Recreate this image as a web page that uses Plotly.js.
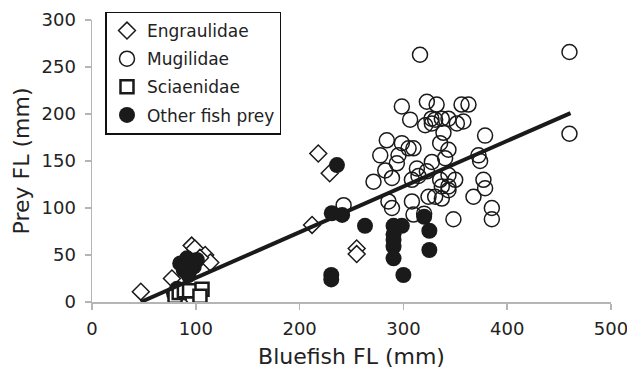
<!DOCTYPE html>
<html>
<head>
<meta charset="utf-8">
<script src="https://cdn.plot.ly/plotly-3.0.1.min.js"></script>
<style>html,body{margin:0;padding:0;background:#fff;}#chart{width:627px;height:372px;}</style>
</head>
<body>
<div id="chart"></div>
<script>
// Engraulidae (open diamonds)
const engX = [47, 83.5, 77, 96, 99, 109, 114, 104, 218, 229, 212, 255, 255];
const engY = [11, 0.5, 25, 60, 57, 50, 42, 47, 158, 137, 82, 57, 51];

// Mugilidae (open circles)
const mugX = [316, 460, 460, 298.5, 322.6, 332, 356, 362.7, 306.5, 321, 327.4, 330.6, 337, 343.4, 351.5, 357.8,
  338.6, 378.7, 284, 298.5, 305, 309.7, 335.4, 343.4, 277.7, 295.3, 293.7, 340.2, 327.4, 372.3, 373.9,
  282.5, 289, 271.2, 313, 314.5, 322.6, 335.4, 343.4, 349.9, 337, 343.4, 308.2, 377.1, 378.7,
  324.2, 330.6, 337, 367.5, 285.6, 289, 308.2, 385.2, 385.2, 348.2, 242.4, 309.7, 320, 343.4, 327];
const mugY = [263, 266, 179, 208, 213, 210, 210, 210, 194, 188, 190, 194, 195, 195, 190, 192,
  180, 177, 172, 169, 163.5, 163.5, 169, 162, 156, 156, 147.5, 153, 149, 156, 150,
  140, 132, 128, 142, 134, 139, 130, 135, 130, 123, 119, 130, 130, 121,
  112, 112, 110, 112, 107, 100, 107, 100, 88, 88, 103, 93, 94, 123, 195];

// Sciaenidae (open squares)
const sciX = [80, 84, 89, 94, 106, 104];
const sciY = [6, 10, 12, 12, 13.5, 6];

// Other fish prey (filled circles)
const othX = [85, 91.6, 98, 88.4, 101, 93, 79, 82, 95, 90, 236, 231, 241, 263, 290.5, 298.5, 290.5, 290.5, 290.5, 290.5, 300, 320, 325, 325, 230.5, 230.5];
const othY = [41, 46.5, 37.6, 34, 44.7, 28.7, 9, 14, 40, 38, 145.7, 94.4, 92.6, 81, 81, 81, 72, 66, 59, 46.5, 28.7, 90.7, 75.8, 55.3, 28.7, 24];

// Regression line end points
const fitX = [47, 461];
const fitY = [0, 201];

const ink = '#1a1a1a';
const FONT = 'DejaVu Sans, Liberation Sans, Arial, sans-serif';
const traces = [
  {x: engX, y: engY, name: 'Engraulidae', legendgroup: 'g1', type: 'scatter', mode: 'markers', legendrank: 1,
   marker: {symbol: 'diamond', size: 13, color: '#fff', line: {color: ink, width: 1.5}}},
  {x: mugX, y: mugY, name: 'Mugilidae', legendgroup: 'g2', type: 'scatter', mode: 'markers', legendrank: 2,
   marker: {symbol: 'circle-open', size: 15, color: ink, line: {color: ink, width: 1.5}}},
  {x: othX, y: othY, name: 'Other fish prey', legendgroup: 'g4', type: 'scatter', mode: 'markers', legendrank: 4,
   marker: {symbol: 'circle', size: 16, color: ink, line: {color: ink, width: 0}}},
  {x: sciX, y: sciY, name: 'Sciaenidae', legendgroup: 'g3', type: 'scatter', mode: 'markers', legendrank: 3,
   marker: {symbol: 'square', size: 13, color: '#fff', line: {color: ink, width: 2.5}}},
  {x: fitX, y: fitY, type: 'scatter', mode: 'lines', showlegend: false, hoverinfo: 'skip',
   line: {color: ink, width: 4}}
];

const layout = {
  width: 627, height: 372,
  margin: {l: 91.5, r: 16, t: 20, b: 70},
  paper_bgcolor: '#fff', plot_bgcolor: '#fff',
  font: {family: FONT, color: '#222'},
  showlegend: true,
  legend: {x: 0.026, y: 1.03, xanchor: 'left', yanchor: 'top', bgcolor: '#fff',
    bordercolor: '#111', borderwidth: 1.5, font: {size: 17, color: '#222', family: FONT},
    itemwidth: 30, traceorder: 'grouped', tracegroupgap: 3},
  xaxis: {range: [0, 500], dtick: 100, tick0: 0, showgrid: false, zeroline: false,
    showline: true, linecolor: '#b5b5b5', linewidth: 1.5, ticks: 'outside', ticklen: 6,
    tickcolor: '#b5b5b5', tickwidth: 1.5, ticklabelstandoff: 4, ticklabeloverflow: 'allow',
    tickfont: {size: 18, color: '#222'},
    title: {text: 'Bluefish FL (mm)', font: {size: 22, color: '#222'}, standoff: 10}},
  yaxis: {range: [0, 300], dtick: 50, tick0: 0, showgrid: false, zeroline: false,
    showline: true, linecolor: '#b5b5b5', linewidth: 1.5, ticks: 'outside', ticklen: 6,
    tickcolor: '#b5b5b5', tickwidth: 1.5, ticklabelstandoff: 5, ticklabeloverflow: 'allow',
    tickfont: {size: 18, color: '#222'},
    title: {text: 'Prey FL (mm)', font: {size: 22, color: '#222'}, standoff: 6}}
};

Plotly.newPlot('chart', traces, layout, {displayModeBar: false, staticPlot: true});
</script>
</body>
</html>
